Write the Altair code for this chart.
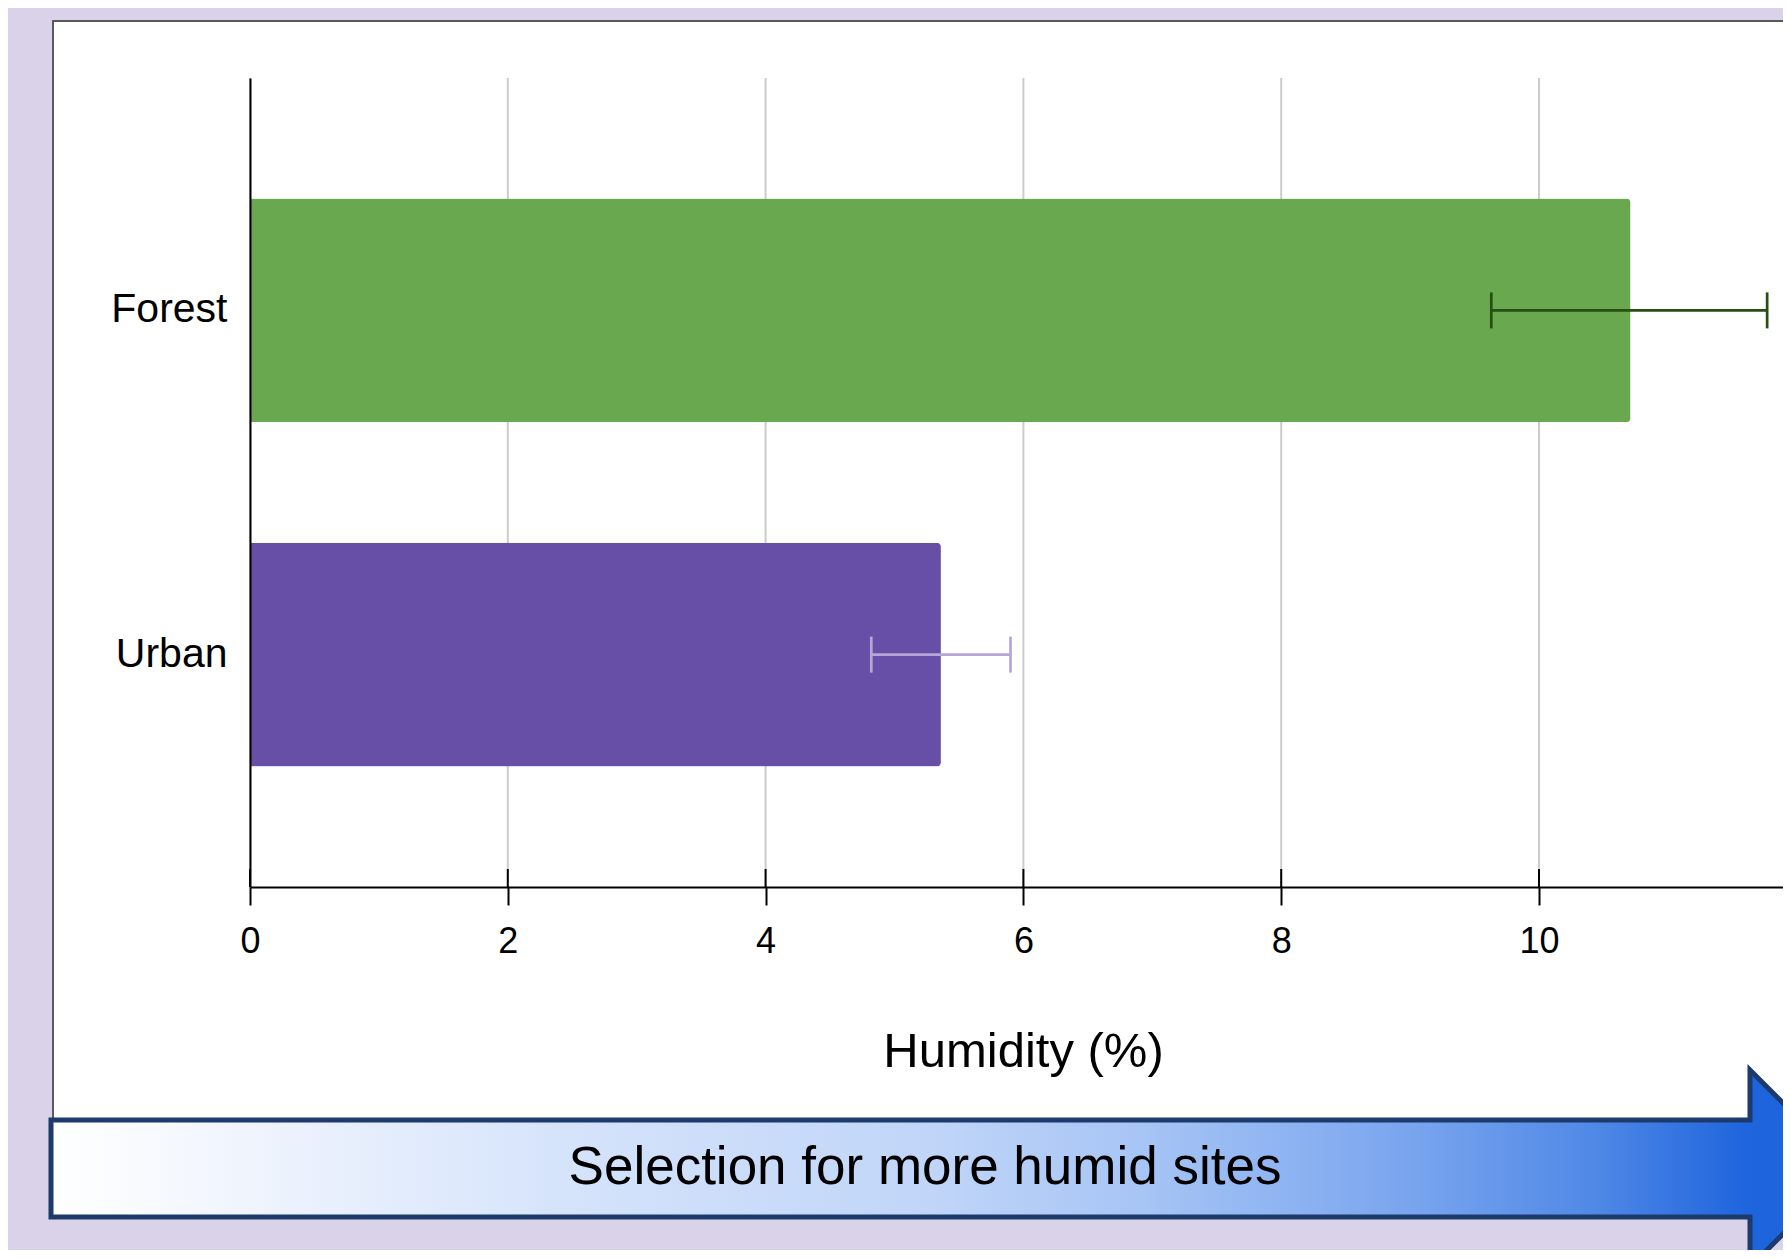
import altair as alt
import pandas as pd

# ---- data ----
sites = ["Forest", "Urban"]
humidity = [10.71, 5.36]
err_low = [9.63, 4.82]
err_high = [11.77, 5.90]
tick_values = [0, 2, 4, 6, 8, 10, 12]
x_title = "Humidity (%)"
arrow_label = "Selection for more humid sites"

# ---- styles ----
bar_colors = ["#6aa84f", "#674ea7"]
err_colors = ["#274e13", "#b4a7d6"]
FONT = "Liberation Sans"

df = pd.DataFrame({"site": sites, "humidity": humidity, "lo": err_low, "hi": err_high})
ticks_df = pd.DataFrame({"v": tick_values})
one = pd.DataFrame({"label": [arrow_label]})

PX_PER_UNIT = 128.9
W, H = 1533, 809
X_MAX = W / PX_PER_UNIT
xscale = alt.Scale(domain=[0, X_MAX], nice=False, zero=True)
yscale = alt.Scale(domain=sites, paddingInner=0.35, paddingOuter=0.35)

xaxis = alt.Axis(
    values=tick_values, title=x_title, grid=False,
    domainColor="black", domainWidth=2,
    tickColor="black", tickWidth=2, tickSize=18,
    labelFont=FONT, labelFontSize=36, labelColor="black",
    labelPadding=19, labelFlush=False, labelOverlap=False,
    titleFont=FONT, titleFontSize=49, titleFontWeight="normal",
    titleColor="black", titlePadding=68, titleX=773, zindex=1,
)
yaxis = alt.Axis(
    title=None, ticks=False, tickSize=0, grid=False,
    domainColor="black", domainWidth=2,
    labelFont=FONT, labelFontSize=41, labelColor="black",
    labelPadding=23, zindex=1,
)

# background white panel
panel = alt.Chart(one).mark_rect(fill="white", stroke="#5a5a5a", strokeWidth=2).encode(
    x=alt.value(-197), x2=alt.value(W + 100), y=alt.value(-57), y2=alt.value(1102)
)

grid = alt.Chart(ticks_df).mark_rule(color="#cccccc", strokeWidth=2).encode(
    x=alt.X("v:Q", scale=xscale, axis=xaxis), y=alt.value(0), y2=alt.value(H)
)

bars = alt.Chart(df).mark_bar(cornerRadiusEnd=4, opacity=1).encode(
    x=alt.X("humidity:Q", scale=xscale, axis=xaxis),
    y=alt.Y("site:N", sort=sites, scale=yscale, axis=yaxis),
    color=alt.Color("site:N", scale=alt.Scale(domain=sites, range=bar_colors), legend=None),
)

err_color = alt.Color("site:N", scale=alt.Scale(domain=sites, range=err_colors), legend=None)
err_rule = alt.Chart(df).mark_rule(strokeWidth=2.7, opacity=1).encode(
    x=alt.X("lo:Q", scale=xscale, axis=xaxis), x2="hi:Q",
    y=alt.Y("site:N", sort=sites, scale=yscale, axis=yaxis),
    color=err_color,
)
cap_lo = alt.Chart(df).mark_tick(size=36, thickness=2.7, opacity=1).encode(
    x=alt.X("lo:Q", scale=xscale, axis=xaxis),
    y=alt.Y("site:N", sort=sites, scale=yscale, axis=yaxis),
    color=err_color,
)
cap_hi = alt.Chart(df).mark_tick(size=36, thickness=2.7, opacity=1).encode(
    x=alt.X("hi:Q", scale=xscale, axis=xaxis),
    y=alt.Y("site:N", sort=sites, scale=yscale, axis=yaxis),
    color=err_color,
)

tick_up = alt.Chart(ticks_df).mark_rule(color="black", strokeWidth=2).encode(
    x=alt.X("v:Q", scale=xscale, axis=xaxis), y=alt.value(H - 18), y2=alt.value(H)
)

# arrow annotation
ARROW_PATH = ("M-1,-0.054 L0.8904,-0.054 L0.8904,-0.1096 L1,0 "
              "L0.8904,0.1096 L0.8904,0.054 L-1,0.054 Z")
U = 898.75
gradient = {
    "gradient": "linear", "x1": 0, "y1": 0, "x2": 1, "y2": 0,
    "stops": [
        {"offset": 0.0, "color": "#ffffff"},
        {"offset": 0.14, "color": "#ebf1fd"},
        {"offset": 0.28, "color": "#d6e4fb"},
        {"offset": 0.49, "color": "#c0d5f8"},
        {"offset": 0.61, "color": "#a6c4f5"},
        {"offset": 0.76, "color": "#78a4ee"},
        {"offset": 0.86, "color": "#4f88e6"},
        {"offset": 0.944, "color": "#1e64dd"},
        {"offset": 1.0, "color": "#1c62dc"},
    ],
}
arrow = alt.Chart(one).mark_point(
    shape=ARROW_PATH, filled=True, fill=gradient, stroke="#1c3a6b", strokeWidth=5,
    opacity=1, fillOpacity=1, strokeOpacity=1, size=(2 * U) ** 2,
).encode(x=alt.value(699.75), y=alt.value(1090.5))

arrow_text = alt.Chart(one).mark_text(
    font=FONT, fontSize=53, color="black", align="center", baseline="middle"
).encode(text="label:N", x=alt.value(675), y=alt.value(1090))

chart = alt.layer(
    panel, grid, bars, err_rule, cap_lo, cap_hi, tick_up, arrow, arrow_text
).resolve_scale(color="independent").properties(
    width=W, height=H,
    autosize=alt.AutoSizeParams(type="none"),
    padding={"left": 242, "top": 70, "right": 0, "bottom": 363},
    background="#d9d2e9",
).configure_view(stroke=None)

chart.save("out.html", embed_options={"renderer": "svg", "actions": False})
